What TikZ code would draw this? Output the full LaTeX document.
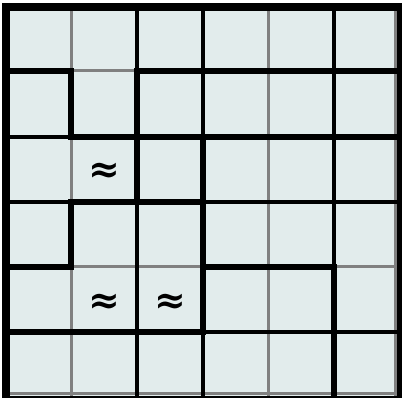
\documentclass[tikz,border=0pt]{standalone}
\usepackage{fontspec}
\newfontfamily\symfont{DejaVu Serif}
\definecolor{cellfill}{RGB}{226,236,236}
\definecolor{linegray}{RGB}{128,128,128}
\tikzset{
  thk/.style={line width=6.5pt,black,line cap=rect},
  thn/.style={line width=3.2pt,black},
  gry/.style={line width=3pt,linegray},
  sym/.style={inner sep=0pt,font=\symfont\bfseries\fontsize{38}{38}\selectfont}
}
\begin{document}
\begin{tikzpicture}[x=1pt,y=-1pt]
\useasboundingbox (0,0) rectangle (402,398);
\fill[white] (0,0) rectangle (402,398);
\fill[cellfill] (6,7) rectangle (401,398);
% column x: 6,71,137,203,268,334 ; row y: 7,71,137,202,267,332
% gray segments
\draw[gry] (71,7) -- (71,71);
\draw[gry] (71,137) -- (71,202);
\draw[gry] (71,267) -- (71,398);
\draw[gry] (268,7) -- (268,398);
\draw[gry] (71,71) -- (137,71);
\draw[gry] (71,267) -- (203,267);
\draw[gry] (334,267) -- (402,267);
\draw[gry] (395,7) -- (395,398);
\draw[gry] (6,393) -- (402,393);
% thin black segments
\draw[thn] (137,7) -- (137,71);
\draw[thn] (137,202) -- (137,398);
\draw[thn] (203,7) -- (203,137);
\draw[thn] (203,332) -- (203,398);
\draw[thn] (334,7) -- (334,267);
\draw[thn] (6,137) -- (71,137);
\draw[thn] (6,202) -- (71,202);
\draw[thn] (203,202) -- (402,202);
\draw[thn] (203,332) -- (402,332);
% thick black segments
\draw[thk] (6,71) -- (71,71);
\draw[thk] (137,71) -- (402,71);
\draw[thk] (71,71) -- (71,137);
\draw[thk] (137,71) -- (137,202);
\draw[thk] (71,137) -- (402,137);
\draw[thk] (71,202) -- (203,202);
\draw[thk] (71,202) -- (71,267);
\draw[thk] (203,137) -- (203,332);
\draw[thk] (6,267) -- (71,267);
\draw[thk] (203,267) -- (334,267);
\draw[thk] (334,267) -- (334,398);
\draw[thk] (6,332) -- (203,332);
% outer frame
\draw[line width=8.5pt,black] (2,7) -- (402,7);
\draw[line width=8.5pt,black] (6,3) -- (6,398);
\draw[line width=8pt,black] (401,3) -- (401,398);
\draw[line width=7pt,black] (2,399) -- (402,399);
% symbols
\node[sym] (s1) at (104,173) {≈};
\node[sym] (s2) at (104,304) {≈};
\node[sym] (s3) at (170,304) {≈};
\end{tikzpicture}
\end{document}
